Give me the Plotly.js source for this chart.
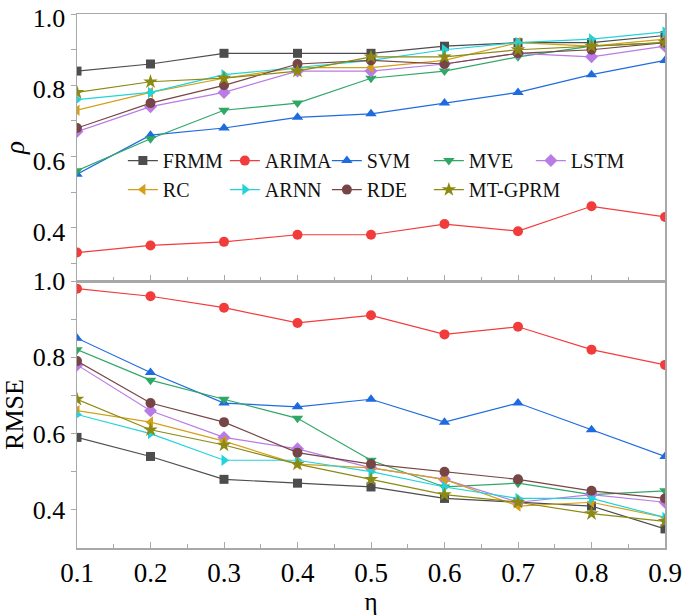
<!DOCTYPE html>
<html>
<head>
<meta charset="utf-8">
<script src="https://cdn.plot.ly/plotly-3.0.1.min.js"></script>
<style>html,body{margin:0;padding:0;background:#fff;}#chart{width:685px;height:615px;}</style>
</head>
<body>
<div id="chart"></div>
<script>
const eta = [0.1, 0.2, 0.3, 0.4, 0.5, 0.6, 0.7, 0.8, 0.9];
const methods = ['FRMM', 'ARIMA', 'SVM', 'MVE', 'LSTM', 'RC', 'ARNN', 'RDE', 'MT-GPRM'];

// rho (top panel)
const rhoFRMM   = [0.84, 0.86, 0.89, 0.89, 0.89, 0.91, 0.92, 0.92, 0.94];
const rhoARIMA  = [0.33, 0.35, 0.36, 0.38, 0.38, 0.41, 0.39, 0.46, 0.43];
const rhoSVM    = [0.55, 0.66, 0.68, 0.71, 0.72, 0.75, 0.78, 0.83, 0.87];
const rhoMVE    = [0.56, 0.65, 0.73, 0.75, 0.82, 0.84, 0.88, 0.91, 0.92];
const rhoLSTM   = [0.67, 0.74, 0.78, 0.84, 0.84, 0.86, 0.89, 0.88, 0.91];
const rhoRC     = [0.73, 0.78, 0.82, 0.85, 0.85, 0.87, 0.92, 0.91, 0.93];
const rhoARNN   = [0.76, 0.78, 0.83, 0.85, 0.87, 0.90, 0.92, 0.93, 0.95];
const rhoRDE    = [0.68, 0.75, 0.80, 0.86, 0.87, 0.86, 0.89, 0.90, 0.92];
const rhoMTGPRM = [0.78, 0.81, 0.82, 0.84, 0.88, 0.88, 0.90, 0.91, 0.92];

// RMSE (bottom panel)
const rmseFRMM   = [0.59, 0.54, 0.48, 0.47, 0.46, 0.43, 0.42, 0.41, 0.35];
const rmseARIMA  = [0.98, 0.96, 0.93, 0.89, 0.91, 0.86, 0.88, 0.82, 0.78];
const rmseSVM    = [0.85, 0.76, 0.68, 0.67, 0.69, 0.63, 0.68, 0.61, 0.54];
const rmseMVE    = [0.82, 0.74, 0.69, 0.64, 0.53, 0.46, 0.47, 0.44, 0.45];
const rmseLSTM   = [0.78, 0.66, 0.59, 0.56, 0.51, 0.48, 0.42, 0.44, 0.42];
const rmseRC     = [0.66, 0.63, 0.58, 0.52, 0.51, 0.48, 0.41, 0.42, 0.38];
const rmseARNN   = [0.65, 0.60, 0.53, 0.53, 0.50, 0.46, 0.43, 0.43, 0.38];
const rmseRDE    = [0.79, 0.68, 0.63, 0.55, 0.52, 0.50, 0.48, 0.45, 0.43];
const rmseMTGPRM = [0.69, 0.61, 0.57, 0.52, 0.48, 0.44, 0.42, 0.39, 0.37];

const rhoData  = [rhoFRMM, rhoARIMA, rhoSVM, rhoMVE, rhoLSTM, rhoRC, rhoARNN, rhoRDE, rhoMTGPRM];
const rmseData = [rmseFRMM, rmseARIMA, rmseSVM, rmseMVE, rmseLSTM, rmseRC, rmseARNN, rmseRDE, rmseMTGPRM];

const colors  = ['#4d4d4d', '#f23c3c', '#1e6be0', '#2fa866', '#b97be6', '#d4a01a', '#22d3dc', '#774545', '#8c8a12'];
const symbols = ['square', 'circle', 'triangle-up', 'triangle-down', 'diamond', 'triangle-left', 'triangle-right', 'circle', 'star'];
const sizes   = [9, 10, 10, 10, 10, 10, 10, 10, 11];

const traces = [];
methods.forEach((m, i) => {
  traces.push({
    x: eta, y: rhoData[i], name: m, type: 'scatter', mode: 'lines+markers',
    xaxis: 'x2', yaxis: 'y',
    line: {color: colors[i], width: 1.2},
    marker: {symbol: symbols[i], size: sizes[i], color: colors[i]},
    showlegend: true, legendgroup: m
  });
});
methods.forEach((m, i) => {
  traces.push({
    x: eta, y: rmseData[i], name: m, type: 'scatter', mode: 'lines+markers',
    xaxis: 'x', yaxis: 'y2',
    line: {color: colors[i], width: 1.2},
    marker: {symbol: symbols[i], size: sizes[i], color: colors[i]},
    showlegend: false, legendgroup: m
  });
});

const FONT = '"Liberation Serif", "Times New Roman", serif';
const axisLine = '#a8a8a8';

const layout = {
  width: 685, height: 615,
  margin: {l: 77, r: 20, t: 14, b: 67},
  paper_bgcolor: '#ffffff', plot_bgcolor: '#ffffff',
  font: {family: FONT, size: 24, color: '#000'},
  showlegend: true,
  legend: {
    orientation: 'h', x: 0.078, y: 0.762, xanchor: 'left', yanchor: 'top',
    bgcolor: 'rgba(0,0,0,0)', font: {family: FONT, size: 20, color: '#111'},
    entrywidth: 57, entrywidthmode: 'pixels', tracegroupgap: 0
  },
  xaxis: {
    domain: [0, 1], anchor: 'y2', range: [0.1, 0.9],
    tickvals: eta, ticktext: eta.map(v => v.toFixed(1)),
    ticks: 'inside', ticklen: 6, tickcolor: axisLine, tickwidth: 1,
    minor: {dtick: 0.05, tick0: 0.1, ticks: 'inside', ticklen: 4, tickcolor: axisLine},
    showline: true, linecolor: axisLine, linewidth: 1.5, mirror: true,
    showgrid: false, zeroline: false, ticklabeloverflow: 'allow',
    tickfont: {family: FONT, size: 27, color: '#000'},
    title: {text: 'η', font: {family: FONT, size: 25, color: '#000'}, standoff: 0}
  },
  xaxis2: {
    domain: [0, 1], anchor: 'y', matches: 'x', range: [0.1, 0.9],
    tickvals: eta, showticklabels: false,
    ticks: 'inside', ticklen: 6, tickcolor: axisLine, tickwidth: 1,
    minor: {dtick: 0.05, tick0: 0.1, ticks: 'inside', ticklen: 4, tickcolor: axisLine},
    showline: true, linecolor: axisLine, linewidth: 1.5, mirror: true,
    showgrid: false, zeroline: false
  },
  yaxis: {
    domain: [0.5, 1], anchor: 'x2', range: [0.25, 1.0005],
    tickvals: [0.4, 0.6, 0.8, 1.0], tickformat: '.1f',
    ticks: 'outside', ticklen: 5, tickcolor: axisLine, ticklabelshift: 4,
    minor: {tickvals: [0.3, 0.5, 0.7, 0.9], ticks: 'outside', ticklen: 5, tickcolor: axisLine},
    showline: true, linecolor: axisLine, linewidth: 1.5, mirror: true,
    showgrid: false, zeroline: false, ticklabeloverflow: 'allow',
    tickfont: {family: FONT, size: 26, color: '#000'},
    title: {text: '<i>ρ</i>', font: {family: FONT, size: 27, color: '#000'}, standoff: 8}
  },
  yaxis2: {
    domain: [0, 0.5], anchor: 'x', range: [0.3, 1.0],
    tickvals: [0.4, 0.6, 0.8, 1.0], tickformat: '.1f',
    ticks: 'outside', ticklen: 5, tickcolor: axisLine,
    minor: {tickvals: [0.5, 0.7, 0.9], ticks: 'outside', ticklen: 5, tickcolor: axisLine},
    showline: true, linecolor: axisLine, linewidth: 1.5, mirror: true,
    showgrid: false, zeroline: false, ticklabeloverflow: 'allow',
    tickfont: {family: FONT, size: 26, color: '#000'},
    title: {text: 'RMSE', font: {family: FONT, size: 26, color: '#000'}, standoff: 4}
  }
};

Plotly.newPlot('chart', traces, layout, {displayModeBar: false, staticPlot: true});
</script>
</body>
</html>
